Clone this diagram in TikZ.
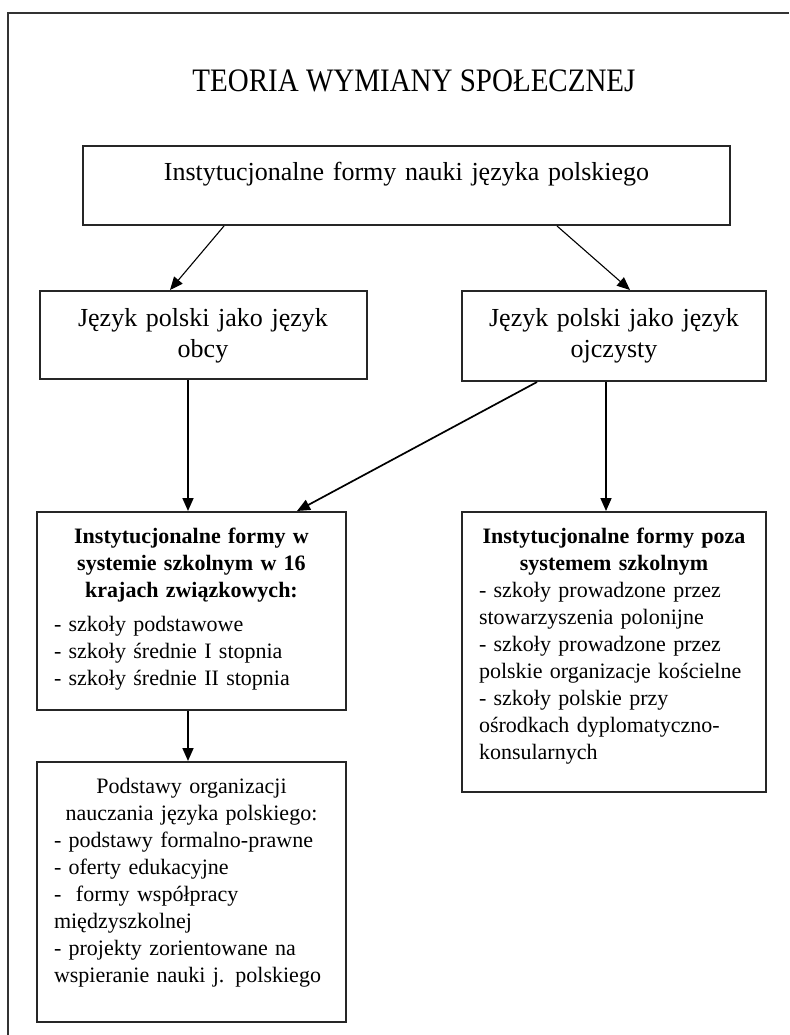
\documentclass[tikz,border=0pt]{standalone}
\usepackage{fontspec}
\setmainfont{Liberation Serif}
\usetikzlibrary{positioning,arrows.meta}
\setlength{\parindent}{0pt}

\tikzset{
  ramka/.style={draw=black!85, line width=2pt, inner xsep=17pt, inner ysep=0pt},
  duzy/.style={font=\fontsize{26}{31.2}\selectfont},
  maly/.style={font=\fontsize{22}{27.1}\selectfont},
}

\begin{document}
\begin{tikzpicture}[x=1pt,y=1pt,>={Triangle[length=13pt,width=11pt]}]
\useasboundingbox (0,0) rectangle (789,-1035);
% ramka strony
\draw[line width=2pt, black!80] (8,-1035) -- (8,-13) -- (789,-13);
\node[anchor=base, inner sep=0pt] (tytul) at (414,-91.7) {\fontsize{29}{30}\selectfont\scalebox{1}[1.13]{TEORIA WYMIANY SPOŁECZNEJ}};

\node[ramka, duzy, align=center, text width=600pt, minimum width=647pt, text height=34.5pt, text depth=44.5pt] (formy) at (406.5,-185.5)
  {Instytucjonalne formy nauki języka polskiego};
\node[ramka, duzy, align=center, text width=293pt, minimum width=327pt, text height=35pt, text depth=53pt, anchor=north] (obcy) at (203,-290)
  {Język polski jako język\\obcy};
\node[ramka, duzy, align=center, text width=270pt, minimum width=304pt, text height=35pt, text depth=55pt, anchor=north] (ojczysty) at (614,-290)
  {Język polski jako język\\ojczysty};

\node[ramka, maly, align=left, text width=275pt, minimum width=309pt, text height=31pt, text depth=167pt, below=131pt of obcy, xshift=-11.5pt] (szkolny) {%
  \makebox[\linewidth]{\bfseries Instytucjonalne formy w}\\
  \makebox[\linewidth]{\bfseries systemie szkolnym w 16}\\
  \makebox[\linewidth]{\bfseries krajach związkowych:}\\[7pt]
  - szkoły podstawowe\\
  - szkoły średnie I stopnia\\
  - szkoły średnie II stopnia};
\node[ramka, maly, align=left, text width=270pt, minimum width=304pt, text height=31pt, text depth=249pt, below=129pt of ojczysty] (poza) {%
  \makebox[\linewidth]{\bfseries Instytucjonalne formy poza}\\
  \makebox[\linewidth]{\bfseries systemem szkolnym}\\
  - szkoły prowadzone przez\\
  stowarzyszenia polonijne\\
  - szkoły prowadzone przez\\
  polskie organizacje kościelne\\
  - szkoły polskie przy\\
  ośrodkach dyplomatyczno-\\
  konsularnych};
\node[ramka, maly, align=left, text width=275pt, minimum width=309pt, text height=31pt, text depth=229pt, below=50pt of szkolny] (podstawy) {%
  \makebox[\linewidth]{Podstawy organizacji}\\
  \makebox[\linewidth]{nauczania języka polskiego:}\\
  - podstawy formalno-prawne\\
  - oferty edukacyjne\\
  -~ formy współpracy\\
  międzyszkolnej\\
  - projekty zorientowane na\\
  wspieranie nauki j. polskiego};

\draw[->, line width=1.1pt] ([xshift=-182.5pt]formy.south) -- ([xshift=-33pt]obcy.north);
\draw[->, line width=1.1pt] ([xshift=150.5pt]formy.south) -- ([xshift=16pt]ojczysty.north);
\draw[->, line width=1.7pt] ([xshift=-3.5pt]szkolny.north |- obcy.south) -- ([xshift=-3.5pt]szkolny.north);
\draw[->, line width=1.7pt] ([xshift=-8pt]ojczysty.south) -- ([xshift=-8pt]poza.north);
\draw[->, line width=1.7pt] ([xshift=-77pt]ojczysty.south) -- ([xshift=105.5pt]szkolny.north);
\draw[->, line width=1.7pt] ([xshift=-3.5pt]szkolny.south) -- ([xshift=-3.5pt]podstawy.north);
\end{tikzpicture}
\end{document}
